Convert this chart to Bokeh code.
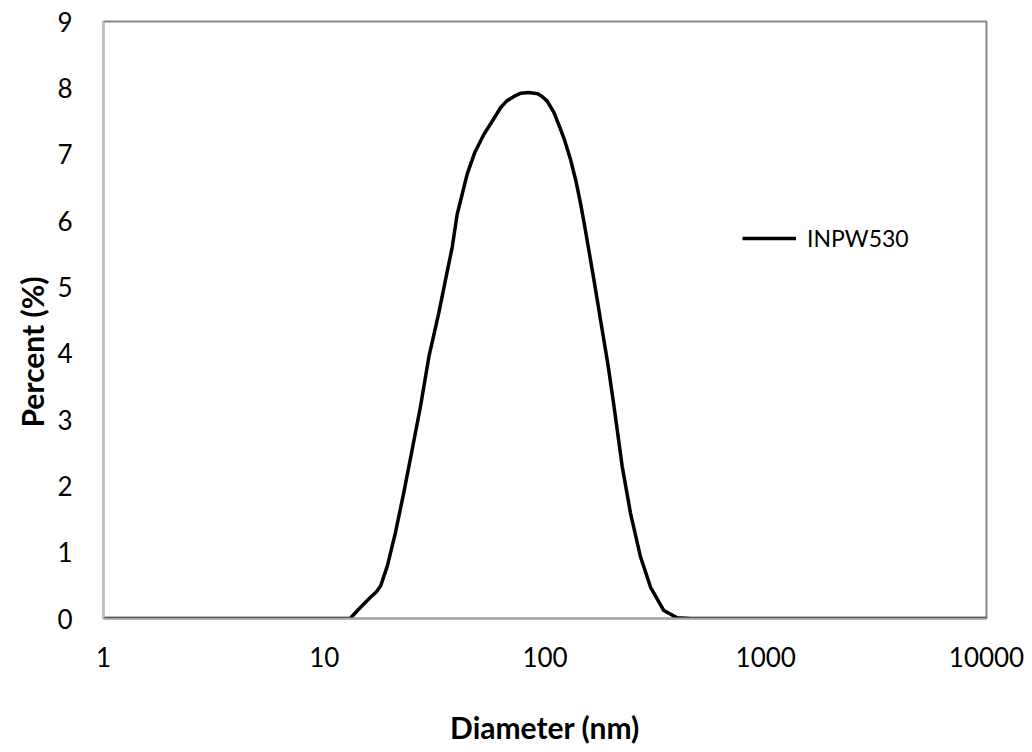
from bokeh.plotting import figure
from bokeh.models import Range1d, FixedTicker, PrintfTickFormatter, Legend, LegendItem, Title
from bokeh.embed import file_html
from bokeh.resources import INLINE

# Data
diameter_nm = [1, 2, 4, 7, 10, 12.0, 13.1, 14.6, 16.2, 17.2, 18.0, 19.3, 21.0, 22.9, 25.0,
               27.3, 29.8, 33.0, 35.4, 38.0, 40.0, 44.4, 48.0, 52.9, 57.0, 62.9, 67.0, 72.3,
               77.8, 84.3, 92.7, 97.0, 102.3, 109.7, 117.8, 123.0, 130.5, 138.0, 145.6,
               152.5, 166.3, 181.6, 193.0, 205.0, 223.8, 243.9, 270.8, 300.8, 345.4, 397.0,
               456.0, 1000, 3000, 10000]
percent = [0, 0, 0, 0, 0, 0, 0, 0.17, 0.32, 0.40, 0.49, 0.79, 1.29, 1.89, 2.54,
           3.20, 3.95, 4.60, 5.10, 5.60, 6.09, 6.70, 7.02, 7.30, 7.47, 7.70, 7.80, 7.87,
           7.92, 7.93, 7.91, 7.87, 7.80, 7.63, 7.37, 7.20, 6.92, 6.60, 6.22,
           5.85, 5.12, 4.35, 3.82, 3.22, 2.29, 1.59, 0.93, 0.47, 0.12, 0.01,
           0, 0, 0, 0]
series_name = "INPW530"
x_ticks = [1, 10, 100, 1000, 10000]
y_ticks = [0, 1, 2, 3, 4, 5, 6, 7, 8, 9]
x_title = "Diameter (nm)"
y_title = "Percent (%)"

FONT = "Lato"

p = figure(frame_width=883, frame_height=597, x_axis_type="log",
           x_range=Range1d(1, 10000), y_range=Range1d(0, 9),
           output_backend="svg", toolbar_location=None,
           min_border_left=103, min_border_right=46, min_border_top=21, min_border_bottom=110)

p.background_fill_color = "white"
p.border_fill_color = "white"
p.outline_line_color = "#878787"
p.outline_line_width = 2
p.xgrid.grid_line_color = None
p.ygrid.grid_line_color = None

p.xaxis.ticker = FixedTicker(ticks=x_ticks)
p.xaxis.formatter = PrintfTickFormatter(format="%d")
p.yaxis.ticker = FixedTicker(ticks=y_ticks)

for ax in (p.xaxis, p.yaxis):
    ax.major_tick_line_color = None
    ax.minor_tick_line_color = None
    ax.major_tick_out = 0
    ax.major_tick_in = 0
    ax.minor_tick_out = 0
    ax.major_label_text_font = FONT
    ax.major_label_text_font_size = "26px"
    ax.major_label_text_color = "black"
    ax.axis_line_width = 2

p.yaxis.axis_line_color = "#bfbfbf"
p.xaxis.axis_line_color = "#a6a6a6"
p.yaxis.major_label_standoff = 31
p.xaxis.major_label_standoff = 28

p.xaxis.axis_label = x_title
p.xaxis.axis_label_text_font = FONT
p.xaxis.axis_label_text_font_size = "30px"
p.xaxis.axis_label_text_font_style = "bold"
p.xaxis.axis_label_text_color = "black"
p.xaxis.axis_label_standoff = 39

r = p.line(diameter_nm, percent, line_color="black", line_width=3.5, line_join="round")

legend = Legend(items=[LegendItem(label=series_name, renderers=[r])],
                location=(639, 366), orientation="vertical")
legend.border_line_color = None
legend.background_fill_alpha = 0
legend.padding = 0
legend.margin = 0
legend.glyph_width = 54
legend.glyph_height = 28
legend.label_standoff = 11
legend.label_text_font = FONT
legend.label_text_font_size = "23px"
legend.label_text_color = "black"
p.add_layout(legend, "center")

ytitle = Title(text=y_title, align="left", offset=191, standoff=10,
               text_font=FONT, text_font_size="30px", text_font_style="bold",
               text_color="black")
p.add_layout(ytitle, "left")

open("out.html", "w").write(file_html(p, INLINE))
